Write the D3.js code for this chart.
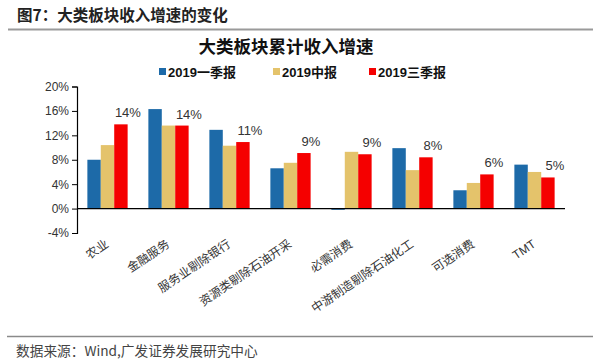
<!DOCTYPE html>
<html>
<head>
<meta charset="utf-8">
<script src="https://cdn.jsdelivr.net/npm/d3@7"></script>
<style>
  body { margin: 0; background: #fff; }
  svg { display: block; }
</style>
</head>
<body>
<div id="chart"></div>
<script>
var categories = ["农业", "金融服务", "服务业剔除银行", "资源类剔除石油开采", "必需消费", "中游制造剔除石油化工", "可选消费", "TMT"];
var seriesNames = ["2019一季报", "2019中报", "2019三季报"];
var q1 = [8.0, 16.3, 12.9, 6.6, -0.2, 9.9, 3.0, 7.2];
var h1 = [10.4, 13.6, 10.3, 7.5, 9.3, 6.3, 4.2, 6.0];
var q3 = [13.8, 13.6, 10.9, 9.1, 8.9, 8.4, 5.6, 5.1];
var q3Labels = ["14%", "14%", "11%", "9%", "9%", "8%", "6%", "5%"];
var yTicks = [-4, 0, 4, 8, 12, 16, 20];

var colors = ["#1d6aa8", "#e4c36b", "#f50000"];
var series = [q1, h1, q3];

var width = 600, height = 363;

var svg = d3.select("#chart")
    .append("svg")
    .attr("width", width)
    .attr("height", height);

// header
svg.append("text")
    .attr("x", 17).attr("y", 21)
    .attr("font-family", "Noto Sans CJK SC")
    .attr("font-size", 15.5)
    .attr("font-weight", "bold")
    .attr("fill", "#222")
    .text("图7：大类板块收入增速的变化");

svg.append("line")
    .attr("x1", 8).attr("x2", 593)
    .attr("y1", 29.5).attr("y2", 29.5)
    .attr("stroke", "#9a9a9a").attr("stroke-width", 2);

// chart title
svg.append("text")
    .attr("x", 286).attr("y", 53)
    .attr("text-anchor", "middle")
    .attr("font-family", "Noto Sans CJK SC")
    .attr("font-size", 17.5)
    .attr("font-weight", "bold")
    .attr("fill", "#111")
    .text("大类板块累计收入增速");

// legend
var legendX = [159, 273, 369];
var legend = svg.selectAll(".legend")
    .data(seriesNames)
    .enter()
    .append("g")
    .attr("class", "legend")
    .attr("transform", function (d, i) { return "translate(" + legendX[i] + ",72)"; });

legend.append("rect")
    .attr("x", 0).attr("y", -4)
    .attr("width", 7).attr("height", 7)
    .attr("fill", function (d, i) { return colors[i]; });

legend.append("text")
    .attr("x", 9).attr("y", 5)
    .attr("font-family", "Liberation Sans, Noto Sans CJK SC")
    .attr("font-size", 13)
    .attr("font-weight", "bold")
    .attr("fill", "#111")
    .text(function (d) { return d; });

// scales
var x = d3.scaleBand()
    .domain(categories)
    .range([77, 565])
    .paddingInner(0.34)
    .paddingOuter(0.17);

var xs = d3.scaleBand()
    .domain(d3.range(seriesNames.length))
    .range([0, x.bandwidth()]);

var y = d3.scaleLinear()
    .domain([-4, 20])
    .range([233, 86.5]);

// bars
series.forEach(function (vals, si) {
    svg.append("g")
        .selectAll("rect")
        .data(vals)
        .enter()
        .append("rect")
        .attr("x", function (d, i) { return x(categories[i]) + xs(si); })
        .attr("width", xs.bandwidth())
        .attr("y", function (d) { return y(Math.max(0, d)); })
        .attr("height", function (d) { return Math.abs(y(d) - y(0)); })
        .attr("fill", colors[si]);
});

// data labels on red series
svg.append("g")
    .selectAll("text")
    .data(q3)
    .enter()
    .append("text")
    .attr("x", function (d, i) { return x(categories[i]) + xs(2) + xs.bandwidth() / 2 + 7; })
    .attr("y", function (d) { return y(d) - 7; })
    .attr("text-anchor", "middle")
    .attr("font-family", "Liberation Sans")
    .attr("font-size", 13)
    .attr("fill", "#333")
    .text(function (d, i) { return q3Labels[i]; });

// y axis
var yAxis = svg.append("g")
    .attr("transform", "translate(77,0)")
    .call(d3.axisLeft(y)
        .tickValues(yTicks)
        .tickSize(5)
        .tickFormat(function (d) { return d + "%"; }));

yAxis.select(".domain").attr("stroke", "#000").attr("stroke-width", 1.2);
yAxis.selectAll(".tick line").attr("stroke", "#000");
yAxis.selectAll(".tick text")
    .attr("x", -8)
    .attr("font-family", "Liberation Sans")
    .attr("font-size", 12)
    .attr("fill", "#333");

// zero line
svg.append("line")
    .attr("x1", 77).attr("x2", 565)
    .attr("y1", y(0)).attr("y2", y(0))
    .attr("stroke", "#000").attr("stroke-width", 1.2);

// x labels
svg.append("g")
    .selectAll("text")
    .data(categories)
    .enter()
    .append("text")
    .attr("transform", function (d) {
        return "translate(" + (x(d) + x.bandwidth() / 2 + 2) + ",246) rotate(-34)";
    })
    .attr("text-anchor", "end")
    .attr("font-family", function (d) { return d === "TMT" ? "Liberation Sans" : "Noto Sans CJK SC"; })
    .attr("font-size", 12)
    .attr("fill", "#333")
    .text(function (d) { return d; });

// footer
svg.append("line")
    .attr("x1", 7).attr("x2", 593)
    .attr("y1", 336.5).attr("y2", 336.5)
    .attr("stroke", "#8a8a8a").attr("stroke-width", 1.5);

svg.append("text")
    .attr("x", 16).attr("y", 356)
    .attr("font-family", "Noto Sans CJK SC, Liberation Sans")
    .attr("font-size", 13.7)
    .attr("fill", "#444")
    .text("数据来源：Wind,广发证券发展研究中心");
</script>
</body>
</html>
